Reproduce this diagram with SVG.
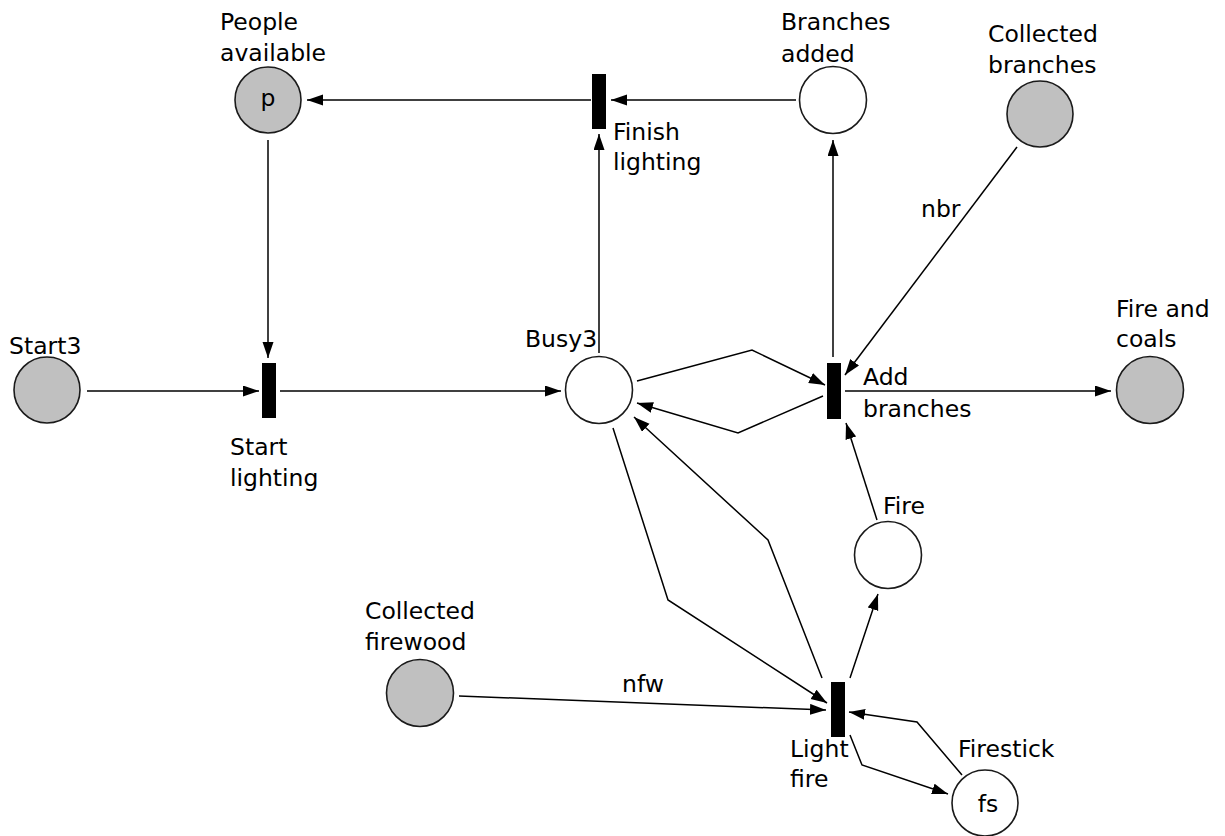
<svg xmlns="http://www.w3.org/2000/svg" width="1225" height="836" viewBox="0 0 1225 836">
<style>
.pl{fill:#ffffff;stroke:#1a1a1a;stroke-width:1.6}
.tok{fill:#c0c0c0}
.tr{fill:#000000}
.arc{fill:none;stroke:#000000;stroke-width:1.5}
text{font-family:"DejaVu Sans",Verdana,sans-serif;font-size:23.5px;fill:#000000}
.c{text-anchor:middle}
</style>
<defs>
<marker id="ah" markerUnits="userSpaceOnUse" markerWidth="17" markerHeight="12" refX="16" refY="5.5" orient="auto">
<path d="M0,0 L16,5.5 L0,11 z" fill="#000000"/>
</marker>
</defs>
<rect width="1225" height="836" fill="#ffffff"/>
<g id="connectors">
<path class="arc" marker-end="url(#ah)" d="M591,100 L307,100"/>
<path class="arc" marker-end="url(#ah)" d="M796,100 L611,100"/>
<path class="arc" marker-end="url(#ah)" d="M599,353 L599,134"/>
<path class="arc" marker-end="url(#ah)" d="M268,140 L268,358"/>
<path class="arc" marker-end="url(#ah)" d="M87,391 L259,391"/>
<path class="arc" marker-end="url(#ah)" d="M280,391 L561,391"/>
<path class="arc" marker-end="url(#ah)" d="M833,357 L833,140"/>
<path class="arc" marker-end="url(#ah)" d="M1017,147 L845,375"/>
<path class="arc" marker-end="url(#ah)" d="M845,391 L1111,391"/>
<path class="arc" marker-end="url(#ah)" d="M637,381 L752,350 L825,385"/>
<path class="arc" marker-end="url(#ah)" d="M823,396 L738,433 L637,403"/>
<path class="arc" marker-end="url(#ah)" d="M877,520 L846,423"/>
<path class="arc" marker-end="url(#ah)" d="M822,678 L768,540 L634,417"/>
<path class="arc" marker-end="url(#ah)" d="M613,428 L668,600 L827,703"/>
<path class="arc" marker-end="url(#ah)" d="M850,678 L878,594"/>
<path class="arc" marker-end="url(#ah)" d="M459,696 L826,710"/>
<path class="arc" marker-end="url(#ah)" d="M962,775 L917,722 L849,712"/>
<path class="arc" marker-end="url(#ah)" d="M850,735 L862,765 L948,794"/>
</g>
<g id="people-available">
<circle class="pl tok" cx="268" cy="100" r="33"/>
<text x="220" y="30">People</text>
<text x="220" y="61">available</text>
<text class="c" x="268" y="106">p</text>
</g>
<g id="finish-lighting">
<rect class="tr" x="592" y="74" width="14" height="55"/>
<text x="613" y="140">Finish</text>
<text x="613" y="170">lighting</text>
</g>
<g id="branches-added">
<circle class="pl" cx="833" cy="100" r="33.5"/>
<text x="781" y="30">Branches</text>
<text x="781" y="62">added</text>
</g>
<g id="collected-branches">
<circle class="pl tok" cx="1040" cy="114" r="33"/>
<text x="988" y="42">Collected</text>
<text x="988" y="73">branches</text>
</g>
<g id="start3">
<circle class="pl tok" cx="47" cy="390" r="33"/>
<text x="9" y="354">Start3</text>
</g>
<g id="start-lighting">
<rect class="tr" x="262" y="363" width="14" height="55"/>
<text x="230" y="455">Start</text>
<text x="230" y="486">lighting</text>
</g>
<g id="busy3">
<circle class="pl" cx="599" cy="390" r="33.5"/>
<text x="525" y="347">Busy3</text>
</g>
<g id="add-branches">
<rect class="tr" x="827" y="363" width="14" height="56"/>
<text x="863" y="385">Add</text>
<text x="863" y="417">branches</text>
</g>
<g id="nbr-label">
<text x="921" y="217">nbr</text>
</g>
<g id="fire-and-coals">
<circle class="pl tok" cx="1150" cy="390" r="33.5"/>
<text x="1116" y="317">Fire and</text>
<text x="1116" y="347">coals</text>
</g>
<g id="fire">
<circle class="pl" cx="888" cy="555" r="33.5"/>
<text x="883" y="514">Fire</text>
</g>
<g id="collected-firewood">
<circle class="pl tok" cx="420" cy="693" r="33.5"/>
<text x="365" y="619">Collected</text>
<text x="365" y="650">firewood</text>
</g>
<g id="nfw-label">
<text x="622" y="692">nfw</text>
</g>
<g id="light-fire">
<rect class="tr" x="831" y="682" width="14" height="55"/>
<text x="790" y="757">Light</text>
<text x="790" y="787">fire</text>
</g>
<g id="firestick">
<circle class="pl" cx="985" cy="803" r="33"/>
<text x="958" y="757">Firestick</text>
<text class="c" x="988" y="812">fs</text>
</g>
</svg>
